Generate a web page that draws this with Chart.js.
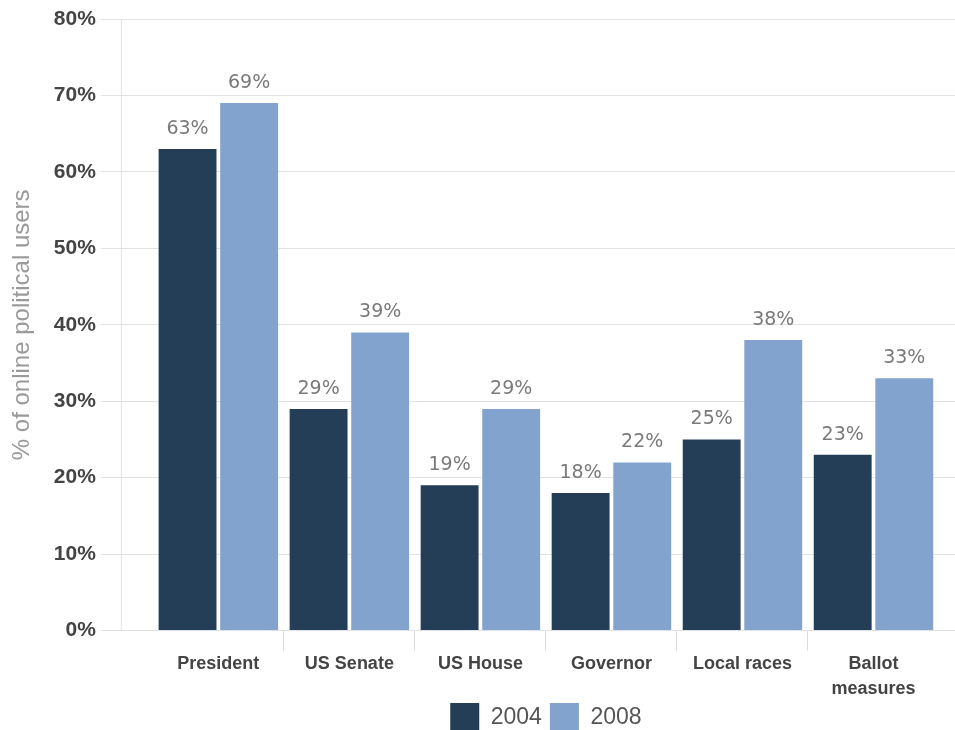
<!DOCTYPE html>
<html lang="en">
<head>
    <meta charset="UTF-8">
    <title>Online political users</title>
    <script src="https://cdn.jsdelivr.net/npm/chart.js"></script>
    <style>
        body {
            margin: 0;
            background: #ffffff;
        }

        .wrap {
            width: 955px;
            height: 730px;
        }
    </style>
</head>
<body>

<div class="wrap">
    <canvas id="chart"></canvas>
</div>

<script>
    const categories = ['President', 'US Senate', 'US House', 'Governor', 'Local races', ['Ballot', 'measures']];
    const years = ['2004', '2008'];
    const values2004 = [63, 29, 19, 18, 25, 23];
    const values2008 = [69, 39, 29, 22, 38, 33];
    const yTicks = [0, 10, 20, 30, 40, 50, 60, 70, 80];

    // value labels above each bar
    const barLabels = {
        id: 'barLabels',
        afterDatasetsDraw(chart) {
            const ctx = chart.ctx;
            ctx.save();
            ctx.font = '19px "DejaVu Sans"';
            ctx.fillStyle = '#7a7a7a';
            ctx.textAlign = 'center';
            ctx.textBaseline = 'alphabetic';
            chart.data.datasets.forEach((ds, i) => {
                chart.getDatasetMeta(i).data.forEach((bar, j) => {
                    ctx.fillText(ds.data[j] + '%', bar.x, bar.y - 15);
                });
            });
            ctx.restore();
        }
    };

    // left vertical rule and gridlines running on to the right edge
    const frame = {
        id: 'frame',
        beforeDatasetsDraw(chart) {
            const ctx = chart.ctx;
            const area = chart.chartArea;
            const y = chart.scales.y;
            ctx.save();
            ctx.strokeStyle = '#e2e2e6';
            ctx.lineWidth = 1;
            ctx.beginPath();
            ctx.moveTo(area.left - 31.5, y.getPixelForValue(80));
            ctx.lineTo(area.left - 31.5, y.getPixelForValue(0));
            yTicks.forEach(v => {
                const py = Math.round(y.getPixelForValue(v) - 0.5) + 0.5;
                ctx.moveTo(area.right, py);
                ctx.lineTo(chart.width, py);
            });
            ctx.stroke();
            ctx.restore();
        }
    };

    new Chart(document.getElementById('chart'), {
        type: 'bar',
        data: {
            labels: categories,
            datasets: [
                {
                    label: years[0],
                    data: values2004,
                    backgroundColor: '#243e58'
                },
                {
                    label: years[1],
                    data: values2008,
                    backgroundColor: '#83a3cf'
                }
            ]
        },
        options: {
            responsive: true,
            maintainAspectRatio: false,
            animation: false,
            categoryPercentage: 0.94,
            barPercentage: 0.94,
            layout: {
                padding: { top: 19, right: 16, left: 8, bottom: -12 }
            },
            plugins: {
                legend: {
                    position: 'bottom',
                    fullSize: false,
                    labels: {
                        boxWidth: 29,
                        boxHeight: 29,
                        padding: 8,
                        color: '#555555',
                        font: { family: '"Liberation Sans", Arial', size: 23 }
                    }
                },
                tooltip: { enabled: false }
            },
            scales: {
                x: {
                    border: { display: false },
                    afterFit: (axis) => {
                        axis.height -= 8;
                    },
                    grid: {
                        offset: true,
                        drawOnChartArea: false,
                        tickLength: 20,
                        color: (c) => (c.type !== 'tick' || c.index === 0 ? 'rgba(0,0,0,0)' : '#dcdcdc')
                    },
                    ticks: {
                        color: '#444444',
                        padding: 1,
                        font: { family: '"Liberation Sans", Arial', size: 18, weight: 'bold', lineHeight: 1.4 }
                    }
                },
                y: {
                    min: 0,
                    max: 80,
                    border: { display: false },
                    afterBuildTicks: (axis) => {
                        axis.ticks = yTicks.map(v => ({ value: v }));
                    },
                    grid: {
                        color: '#e2e2e6',
                        tickLength: 52
                    },
                    ticks: {
                        color: '#444444',
                        padding: 5,
                        font: { family: '"Liberation Sans", Arial', size: 21, weight: 'bold' },
                        callback: (v) => v + '%'
                    },
                    title: {
                        display: true,
                        text: '% of online political users',
                        color: '#9a9a9a',
                        padding: { top: 0, bottom: 12 },
                        font: { family: '"Liberation Sans", Arial', size: 24 }
                    }
                }
            }
        },
        plugins: [barLabels, frame]
    });
</script>

</body>
</html>
